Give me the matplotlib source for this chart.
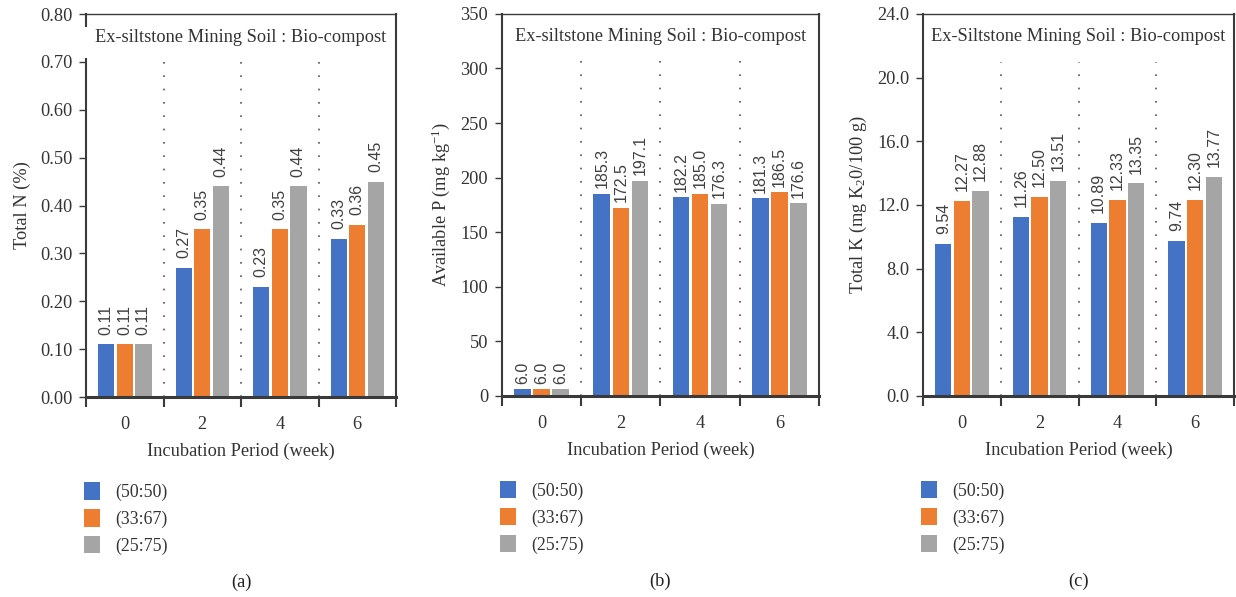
import numpy as np
import matplotlib
matplotlib.use("Agg")
import matplotlib.pyplot as plt
from matplotlib.patches import Rectangle

plt.rcParams["font.family"] = ["Liberation Serif", "DejaVu Serif"]
plt.rcParams["mathtext.default"] = "regular"

# incubation weeks and soil : compost ratios
weeks = ["0", "2", "4", "6"]
ratios = ["(50:50)", "(33:67)", "(25:75)"]
colors = ["#4472C4", "#ED7D31", "#A5A5A5"]

# total N (%)
n_5050 = [0.11, 0.27, 0.23, 0.33]
n_3367 = [0.11, 0.35, 0.35, 0.36]
n_2575 = [0.11, 0.44, 0.44, 0.45]

# available P (mg/kg)
p_5050 = [6.0, 185.3, 182.2, 181.3]
p_3367 = [6.0, 172.5, 185.0, 186.5]
p_2575 = [6.0, 197.1, 176.3, 176.6]

# total K (mg K2O/100 g)
k_5050 = [9.54, 11.26, 10.89, 9.74]
k_3367 = [12.27, 12.50, 12.33, 12.30]
k_2575 = [12.88, 13.51, 13.35, 13.77]

fig = plt.figure(figsize=(12.36, 5.97), dpi=100)

panels = [
    dict(rect=[0.0696, 0.335, 0.2508, 0.6415], data=[n_5050, n_3367, n_2575],
         ymax=0.80, step=0.10, fmt="%.2f", lab="%.2f", ylabel="Total N (%)",
         title="Ex-siltstone Mining Soil : Bio-compost", cap="(a)", box=True,
         dot=0.875, gap=7),
    dict(rect=[0.4061, 0.3367, 0.2565, 0.640], data=[p_5050, p_3367, p_2575],
         ymax=350, step=50, fmt="%d", lab="%.1f", ylabel="Available P (mg kg$^{-1}$)",
         title="Ex-siltstone Mining Soil : Bio-compost", cap="(b)", box=False,
         dot=0.905, gap=4),
    dict(rect=[0.7468, 0.3367, 0.2516, 0.640], data=[k_5050, k_3367, k_2575],
         ymax=24.0, step=4.0, fmt="%.1f", lab="%.2f", ylabel="Total K (mg K$_2$0/100 g)",
         title="Ex-Siltstone Mining Soil : Bio-compost", cap="(c)", box=False,
         dot=0.875, gap=7),
]

x = np.arange(len(weeks))
width = 0.21
offsets = [-0.24, 0, 0.24]
dark = "#3a3a3a"
fs = 13.2

for p in panels:
    ax = fig.add_axes(p["rect"])
    ymax = p["ymax"]
    for vals, off, c, name in zip(p["data"], offsets, colors, ratios):
        ax.bar(x + off, vals, width, color=c, label=name, zorder=2)
        for xi, v in zip(x + off, vals):
            ax.annotate(p["lab"] % v, (xi, v), xytext=(0, p["gap"]),
                        textcoords="offset points", rotation=90, ha="center",
                        va="bottom", fontsize=11.5, color="#404040",
                        family=["Liberation Sans", "DejaVu Sans"])

    ax.set_xlim(-0.5, 3.5)
    ax.set_ylim(0, ymax)
    ax.set_yticks(np.arange(0, ymax + p["step"] / 2, p["step"]))
    ax.yaxis.set_major_formatter(matplotlib.ticker.FormatStrFormatter(p["fmt"]))

    # boundary ticks between weeks, labels centred under each group
    ax.set_xticks([-0.5, 0.5, 1.5, 2.5, 3.5])
    ax.set_xticklabels([])
    ax.set_xticks(x, minor=True)
    ax.set_xticklabels(weeks, minor=True)
    ax.tick_params(axis="x", which="major", length=7, width=1.5, color=dark, direction="out")
    ax.tick_params(axis="x", which="minor", length=0, pad=14, labelsize=fs, labelcolor="#333333")
    ax.tick_params(axis="y", length=5, width=1, color=dark, pad=5, labelsize=fs, labelcolor="#333333")

    for b in [0.5, 1.5, 2.5]:
        ax.axvline(b, ymin=0, ymax=p["dot"], color="#555555", lw=1.2,
                   linestyle=(0, (1, 7)), zorder=1)

    ax.spines["bottom"].set_linewidth(2.2)
    ax.spines["bottom"].set_color(dark)
    ax.spines["left"].set_linewidth(1.5)
    ax.spines["left"].set_color(dark)
    ax.spines["top"].set_linewidth(1.0)
    ax.spines["top"].set_color(dark)
    ax.spines["right"].set_linewidth(1.5)
    ax.spines["right"].set_color(dark)

    if p["box"]:
        ax.add_patch(Rectangle((-0.03, 0.885), 0.95, 0.08, transform=ax.transAxes,
                               facecolor="white", edgecolor="none", clip_on=False, zorder=3))
    ax.text(0.5, 0.94, p["title"], transform=ax.transAxes, ha="center", va="center",
            fontsize=fs, color="#333333", zorder=4)

    ax.set_ylabel(p["ylabel"], fontsize=fs, color="#333333", labelpad=6)
    ax.set_xlabel("Incubation Period (week)", fontsize=fs, color="#333333", labelpad=7)

    ax.legend(loc="upper left", bbox_to_anchor=(-0.005, -0.222), frameon=False,
              fontsize=12.8, handlelength=0.9, handleheight=1.15, handletextpad=0.85,
              labelspacing=0.45, borderpad=0, borderaxespad=0, labelcolor="#333333")

    ax.text(0.5, -0.485, p["cap"], transform=ax.transAxes, ha="center", va="center",
            fontsize=fs, color="#222222")

fig.savefig("out.png", dpi=100, facecolor="white")
